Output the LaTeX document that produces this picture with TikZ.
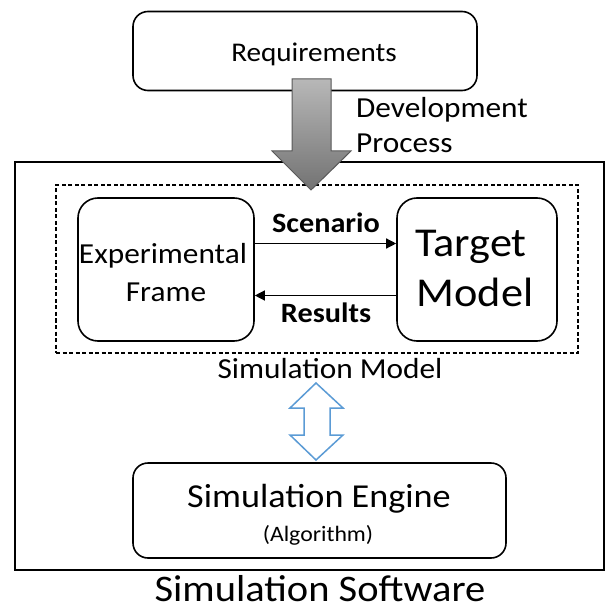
\documentclass[tikz,border=0pt]{standalone}
\usepackage{fontspec}
\setmainfont{Carlito}[FakeStretch=1.08]
\usetikzlibrary{arrows.meta}
\definecolor{linkblue}{RGB}{91,155,213}
\definecolor{arrowedge}{RGB}{89,89,89}
\tikzset{
  roundbox/.style={draw=black, line width=1.6pt, rounded corners=18pt, inner sep=0pt, fill=white},
  plaintext/.style={inner sep=0pt, anchor=base},
  flow/.style={line width=1.3pt, -{Triangle[length=10pt,width=10pt]}},
  fs/.style={font=\fontsize{#1}{#1}\selectfont},
}
\begin{document}
\begin{tikzpicture}[x=1pt,y=-1pt]
\useasboundingbox (0,0) rectangle (606,612);

% outer software frame
\node[draw=black, line width=1.6pt, minimum width=589pt, minimum height=408pt, inner sep=0pt] (soft) at (309.5,366) {};
% simulation model group
\node[draw=black, line width=1.2pt, dash pattern=on 4pt off 2.5pt, minimum width=522pt, minimum height=168pt, inner sep=0pt] (group) at (317,269) {};

% requirements
\node[roundbox, rounded corners=15pt, minimum width=344pt, minimum height=79pt] (req) at (305,51) {};
\node[plaintext, fs=27] (reqtext) at (314,62) {Requirements};

% development process arrow
\shade[top color=black!28, bottom color=black!55, draw=arrowedge, line width=1pt]
  (292,79) -- (331,79) -- (331,151) -- (351,151) -- (311,190) -- (272,151) -- (292,151) -- cycle;
\node[plaintext, anchor=base west, fs=29] (dev) at (356,118) {Development};
\node[plaintext, anchor=base west, fs=29] (proc) at (356,153) {Process};

% inner blocks
\node[roundbox, rounded corners=20pt, minimum width=176pt, minimum height=143pt] (ef) at (166,269.5) {};
\node[plaintext, fs=29] (eftext1) at (163,263) {Experimental};
\node[plaintext, fs=29] (eftext2) at (166,301) {Frame};
\node[roundbox, rounded corners=20pt, minimum width=160pt, minimum height=143pt] (tm) at (477,269.5) {};
\node[plaintext, fs=41] (tmtext1) at (471,256) {Target};
\node[plaintext, fs=41] (tmtext2) at (475,306) {Model};

\draw[flow] ([yshift=26pt]ef.east) -- ([yshift=26pt]tm.west);
\draw[flow] ([yshift=-26pt]tm.west) -- ([yshift=-26pt]ef.east);
\node[plaintext, font=\bfseries\fontsize{28}{28}\selectfont] (scen) at (326,232) {Scenario};
\node[plaintext, font=\bfseries\fontsize{28}{28}\selectfont] (res) at (326,322) {Results};

\node[plaintext, fs=29] (smlabel) at (330,378) {Simulation Model};

% engine
\node[roundbox, rounded corners=15pt, minimum width=373pt, minimum height=95pt] (eng) at (319.5,510.5) {};
\node[plaintext, fs=33.5] (engtext) at (319,507) {Simulation Engine};
\node[plaintext, fs=22] (algtext) at (318,541) {(Algorithm)};

% two-way link between model and engine
\draw[linkblue, line width=1.5pt, fill=white, line join=miter]
  (316,383) -- (343,408) -- (330,408) -- (330,435) -- (343,435) -- (316,460)
  -- (290,435) -- (304,435) -- (304,408) -- (290,408) -- cycle;

\node[plaintext, fs=37.5] (softtext) at (320,601) {Simulation Software};
\end{tikzpicture}
\end{document}
